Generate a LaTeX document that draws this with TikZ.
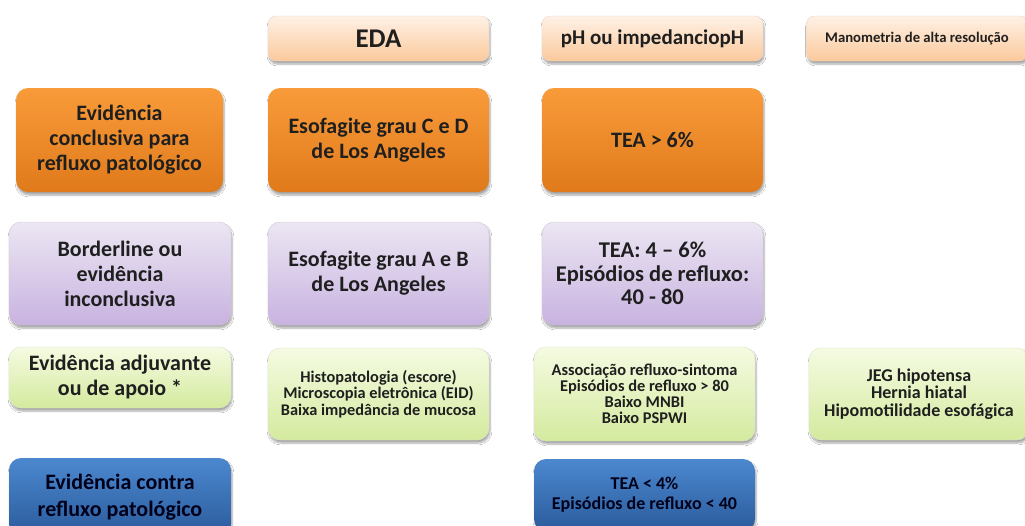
\documentclass[tikz,border=0pt]{standalone}
\usepackage{fontspec}
\setmainfont{Carlito}
\usetikzlibrary{shadows.blur}

\definecolor{pessegoA}{HTML}{FEF1E6}
\definecolor{pessegoB}{HTML}{FBC99B}
\definecolor{laranjaA}{HTML}{F99B3A}
\definecolor{laranjaB}{HTML}{E07A1B}
\definecolor{lilasA}{HTML}{ECE6F3}
\definecolor{lilasB}{HTML}{C8B3E0}
\definecolor{verdeA}{HTML}{F5FBE2}
\definecolor{verdeB}{HTML}{D4EA9E}
\definecolor{azulA}{HTML}{4C88CF}
\definecolor{azulB}{HTML}{2A5B9C}

\tikzset{
  caixa/.style={rounded corners=12pt, align=center, inner sep=2pt,
    font=\bfseries, text=black!88,
    blur shadow={shadow blur steps=6, shadow xshift=1pt,
      shadow yshift=-3pt, shadow opacity=35}},
  titulo/.style={caixa, rounded corners=8pt, draw=pessegoB!80!black!40,
    top color=pessegoA, bottom color=pessegoB,
    minimum width=221pt, minimum height=45pt},
  forte/.style={caixa, top color=laranjaA, bottom color=laranjaB,
    minimum height=104pt},
  duvida/.style={caixa, draw=lilasB!80!black!50, top color=lilasA,
    bottom color=lilasB, minimum height=103pt},
  apoio/.style={caixa, draw=verdeB!80!black!40, top color=verdeA,
    bottom color=verdeB},
  contra/.style={caixa, top color=azulA, bottom color=azulB,
    text=black!90!blue},
  grande/.style={font=\bfseries\fontsize{22}{25}\selectfont},
  medio/.style={font=\bfseries\fontsize{18}{17.5}\selectfont},
  pequeno/.style={font=\bfseries\fontsize{16.3}{16.5}\selectfont}
}

\begin{document}
\begin{tikzpicture}[x=1pt,y=-1pt]
 \useasboundingbox (0,0) rectangle (1025,525);
 \fill[white] (0,0) rectangle (1025,525);
 % cabecalho
 \node[titulo, font=\bfseries\fontsize{27}{28}\selectfont] (eda) at (378.5,38.5) {EDA};
 \node[titulo, font=\bfseries\fontsize{21}{22}\selectfont] (ph) at (652.5,38.5) {pH ou impedanciopH};
 \node[titulo, font=\bfseries\fontsize{14.7}{16}\selectfont] (mano) at (917,38.5) {Manometria de alta resolução};
 % evidencia conclusiva
 \node[forte, grande, minimum width=207pt] (conclusiva) at (119.5,140)
   {Evidência\\conclusiva para\\refluxo patológico};
 \node[forte, grande, minimum width=221pt] (edaCD) at (378.5,140)
   {Esofagite grau C e D\\de Los Angeles};
 \node[forte, grande, minimum width=221pt] (phAlto) at (652.5,140) {TEA > 6\%};
 % borderline
 \node[duvida, grande, minimum width=222pt] (borderline) at (120,273.5)
   {Borderline ou\\evidência\\inconclusiva};
 \node[duvida, grande, minimum width=221pt] (edaAB) at (378.5,273.5)
   {Esofagite grau A e B\\de Los Angeles};
 \node[duvida, font=\bfseries\fontsize{22.5}{23.5}\selectfont, minimum width=221pt] (phMedio) at (652.5,273.5)
   {TEA: 4 -- 6\%\\Episódios de refluxo:\\40 - 80};
 % evidencia adjuvante
 \node[apoio, grande, minimum width=222pt, minimum height=61pt] (adjuvante) at (120,377.5)
   {Evidência adjuvante\\ou de apoio *};
 \node[apoio, pequeno, minimum width=221pt, minimum height=92pt] (edaApoio) at (378.5,394)
   {Histopatologia (escore)\\Microscopia eletrônica (EID)\\Baixa impedância de mucosa};
 \node[apoio, font=\bfseries\fontsize{16.4}{16}\selectfont, minimum width=221pt, minimum height=94pt] (phApoio) at (644.5,394)
   {Associação refluxo-sintoma\\Episódios de refluxo > 80\\Baixo MNBI\\Baixo PSPWI};
 \node[apoio, medio, minimum width=220pt, minimum height=92pt] (manoApoio) at (919,394)
   {JEG hipotensa\\Hernia hiatal\\Hipomotilidade esofágica};
 % evidencia contra
 \node[contra, font=\bfseries\fontsize{22}{27}\selectfont, minimum width=222pt, minimum height=78pt] (contraRef) at (120,497)
   {Evidência contra\\refluxo patológico};
 \node[contra, font=\bfseries\fontsize{18}{20}\selectfont, minimum width=221pt, minimum height=72pt] (phBaixo) at (644.5,495)
   {TEA < 4\%\\Episódios de refluxo < 40};
\end{tikzpicture}
\end{document}
